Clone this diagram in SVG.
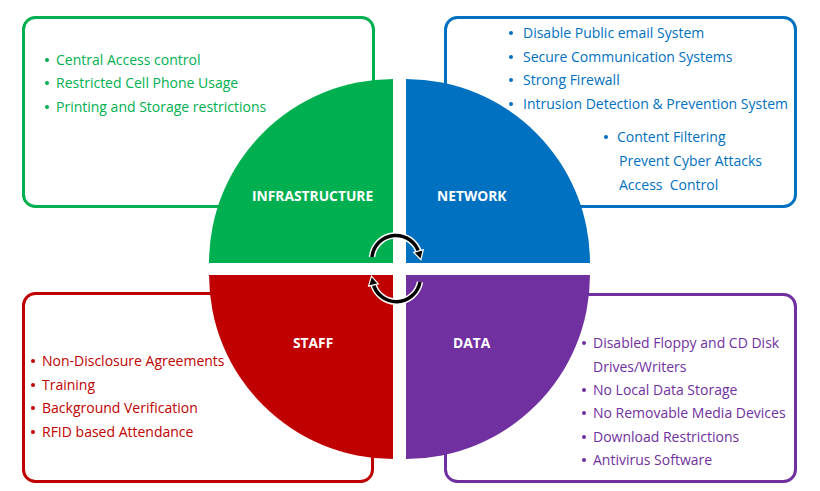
<svg xmlns="http://www.w3.org/2000/svg" width="820" height="491" viewBox="0 0 820 491">
<defs>
<style>
.box{fill:#fff;stroke-width:3}
.t{font-family:"Open Sans","Noto Sans","Liberation Sans",sans-serif;font-size:14px}
.lbl{font-family:"Open Sans","Noto Sans","Liberation Sans",sans-serif;font-size:13.8px;font-weight:bold;fill:#fff}
.g{fill:#00B050}.b{fill:#0070C0}.r{fill:#C00000}.p{fill:#7030A0}
.arcw{fill:none;stroke:#fff;stroke-width:6.5}
.arc{fill:none;stroke:#000;stroke-width:3.5}
</style>
<marker id="ah" markerWidth="13" markerHeight="13" refX="3" refY="6.5" orient="auto" markerUnits="userSpaceOnUse">
<path d="M1,1.5 L10,6.5 L1,11.5 Z" fill="#000" stroke="#fff" stroke-width="1.2"/>
</marker>
</defs>
<rect width="820" height="491" fill="#fff"/>

<g id="infrastructure">
<rect class="box" x="23.5" y="17.5" width="350" height="189" rx="12" stroke="#00B050"/>
<path class="g" d="M393,263 L393,79 A184,184 0 0 0 209,263 Z"/>
<g class="g">
<circle cx="47" cy="60" r="2"/><circle cx="47" cy="83" r="2"/><circle cx="47" cy="107" r="2"/>
</g>
<text class="t g" x="56" y="64.5">Central Access control</text>
<text class="t g" x="56" y="88">Restricted Cell Phone Usage</text>
<text class="t g" x="56" y="111.5">Printing and Storage restrictions</text>
<text class="lbl" x="252" y="201">INFRASTRUCTURE</text>
</g>

<g id="network">
<rect class="box" x="445.5" y="17.5" width="350" height="189" rx="12" stroke="#0070C0"/>
<path class="b" d="M406,263 L590,263 A184,184 0 0 0 406,79 Z"/>
<g class="b">
<circle cx="511" cy="33" r="2"/><circle cx="511" cy="57" r="2"/><circle cx="511" cy="80" r="2"/><circle cx="511" cy="104" r="2"/><circle cx="606" cy="137" r="2"/>
</g>
<text class="t b" x="523" y="38">Disable Public email System</text>
<text class="t b" x="523" y="62">Secure Communication Systems</text>
<text class="t b" x="523" y="85">Strong Firewall</text>
<text class="t b" x="523" y="109">Intrusion Detection &amp; Prevention System</text>
<text class="t b" x="617" y="142">Content Filtering</text>
<text class="t b" x="619" y="166">Prevent Cyber Attacks</text>
<text class="t b" x="619" y="190" xml:space="preserve">Access  Control</text>
<text class="lbl" x="437" y="201">NETWORK</text>
</g>

<g id="staff">
<rect class="box" x="23.5" y="293.5" width="349" height="188" rx="12" stroke="#C00000"/>
<path class="r" d="M393,275 L209,275 A184,184 0 0 0 393,459 Z"/>
<g class="r">
<circle cx="33" cy="361" r="2"/><circle cx="33" cy="385" r="2"/><circle cx="33" cy="408" r="2"/><circle cx="33" cy="432" r="2"/>
</g>
<text class="t r" x="42" y="366">Non-Disclosure Agreements</text>
<text class="t r" x="42" y="390">Training</text>
<text class="t r" x="42" y="413">Background Verification</text>
<text class="t r" x="42" y="437">RFID based Attendance</text>
<text class="lbl" x="293" y="348">STAFF</text>
</g>

<g id="data">
<rect class="box" x="445.5" y="294.5" width="350" height="187" rx="12" stroke="#7030A0"/>
<path class="p" d="M406,275 L406,459 A184,184 0 0 0 590,275 Z"/>
<g class="p">
<circle cx="584" cy="343" r="2"/><circle cx="584" cy="390" r="2"/><circle cx="584" cy="413" r="2"/><circle cx="584" cy="437" r="2"/><circle cx="584" cy="460" r="2"/>
</g>
<text class="t p" x="593" y="348">Disabled Floppy and CD Disk</text>
<text class="t p" x="593" y="371.5">Drives/Writers</text>
<text class="t p" x="593" y="395">No Local Data Storage</text>
<text class="t p" x="593" y="418">No Removable Media Devices</text>
<text class="t p" x="593" y="442">Download Restrictions</text>
<text class="t p" x="593" y="465">Antivirus Software</text>
<text class="lbl" x="453" y="348">DATA</text>
</g>

<g id="connectors">
<path class="arcw" d="M372,257 A24,24 0 0 1 419,253"/>
<path class="arc" d="M372,257 A24,24 0 0 1 419,253" marker-end="url(#ah)"/>
<path class="arcw" d="M420,282 A24,24 0 0 1 373,283"/>
<path class="arc" d="M420,282 A24,24 0 0 1 373,283" marker-end="url(#ah)"/>
</g>
</svg>
